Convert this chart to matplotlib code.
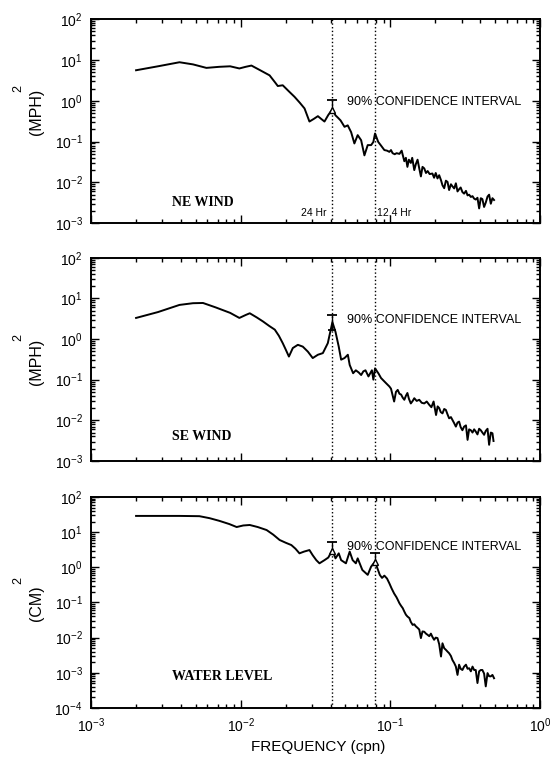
import matplotlib
matplotlib.use("Agg")
import matplotlib.pyplot as plt
from matplotlib.ticker import LogLocator, NullFormatter

# ---- datos (frecuencia en cph, espectro) ----
ne_freq = [0.002, 0.0028, 0.0039, 0.0048, 0.0059, 0.0072, 0.0085, 0.0098, 0.0108, 0.0118,
           0.0135, 0.0156, 0.0170, 0.0177, 0.0191, 0.0210, 0.0229, 0.0248, 0.0267, 0.0288,
           0.0308, 0.0328, 0.0345, 0.0363, 0.0385, 0.0410, 0.0430, 0.0448, 0.0465, 0.0494,
           0.0519, 0.0547, 0.0575, 0.0605, 0.0638, 0.0671, 0.0706, 0.0744, 0.0770, 0.0790,
           0.0830, 0.0866, 0.0912, 0.0950, 0.0985, 0.1010, 0.1035, 0.1070, 0.1100, 0.1150,
           0.1190, 0.1240, 0.1270, 0.1300, 0.1330, 0.1370, 0.1400, 0.1445, 0.1480, 0.1520,
           0.1560, 0.1600, 0.1640, 0.1685, 0.1730, 0.1775, 0.1830, 0.1910, 0.1960, 0.2010,
           0.2065, 0.2120, 0.2180, 0.2230, 0.2290, 0.2350, 0.2410, 0.2470, 0.2540, 0.2600,
           0.2670, 0.2740, 0.2810, 0.2880, 0.2950, 0.3030, 0.3110, 0.3200, 0.3280, 0.3360,
           0.3450, 0.3540, 0.3630, 0.3720, 0.3820, 0.3920, 0.4020, 0.4120, 0.4230, 0.4340,
           0.4460, 0.4570, 0.4690, 0.4810, 0.4930]
ne_power = [5.6, 7.0, 8.8, 7.8, 6.4, 6.8, 7.0, 6.2, 6.8, 7.3,
            5.6, 4.2, 2.8, 2.3, 2.4, 1.7, 1.25, 0.9, 0.65, 0.31,
            0.36, 0.42, 0.36, 0.31, 0.45, 0.62, 0.44, 0.38, 0.33, 0.23,
            0.25, 0.17, 0.090, 0.144, 0.108, 0.046, 0.082, 0.082, 0.098, 0.158,
            0.098, 0.080, 0.062, 0.060, 0.056, 0.062, 0.052, 0.049, 0.052, 0.050,
            0.060, 0.033, 0.040, 0.024, 0.036, 0.030, 0.040, 0.020, 0.028, 0.036,
            0.022, 0.014, 0.024, 0.022, 0.017, 0.019, 0.016, 0.0165, 0.013, 0.017,
            0.0125, 0.0150, 0.0113, 0.0085, 0.0072, 0.0110, 0.0103, 0.0065, 0.0090, 0.0080,
            0.0071, 0.0095, 0.0060, 0.0068, 0.0075, 0.0058, 0.0053, 0.0062, 0.0048, 0.0050,
            0.0044, 0.0046, 0.0040, 0.0038, 0.0042, 0.0023, 0.0041, 0.0039, 0.0025, 0.0032,
            0.0045, 0.0050, 0.0030, 0.0041, 0.0037]

se_freq = [0.002, 0.0028, 0.0039, 0.0048, 0.0056, 0.0068, 0.0085, 0.0098, 0.0108, 0.0115,
           0.0128, 0.0141, 0.0155, 0.0169, 0.0180, 0.0191, 0.0200, 0.0210, 0.0223, 0.0241,
           0.0260, 0.0281, 0.0303, 0.0328, 0.0354, 0.0382, 0.0410, 0.0430, 0.0452, 0.0469,
           0.0494, 0.0520, 0.0535, 0.0564, 0.0588, 0.0615, 0.0638, 0.0660, 0.0682, 0.0714,
           0.0753, 0.0770, 0.0790, 0.0835, 0.0866, 0.0900, 0.0936, 0.0985, 0.1010, 0.1060,
           0.1090, 0.1120, 0.1150, 0.1180, 0.1210, 0.1240, 0.1270, 0.1300, 0.1330, 0.1370,
           0.1410, 0.1445, 0.1500, 0.1560, 0.1620, 0.1685, 0.1750, 0.1820, 0.1880, 0.1945,
           0.2020, 0.2070, 0.2120, 0.2170, 0.2230, 0.2290, 0.2350, 0.2410, 0.2470, 0.2540,
           0.2600, 0.2670, 0.2740, 0.2810, 0.2880, 0.2950, 0.3030, 0.3110, 0.3200, 0.3280,
           0.3360, 0.3450, 0.3540, 0.3630, 0.3720, 0.3820, 0.3920, 0.4020, 0.4120, 0.4230,
           0.4340, 0.4460, 0.4570, 0.4690, 0.4810, 0.4890]
se_power = [3.3, 4.6, 6.9, 7.6, 7.7, 6.0, 4.4, 3.3, 3.9, 4.3,
            3.4, 2.7, 2.1, 1.7, 1.2, 0.79, 0.55, 0.37, 0.60, 0.72,
            0.65, 0.49, 0.34, 0.41, 0.45, 0.79, 2.6, 1.5, 0.65, 0.31,
            0.34, 0.41, 0.23, 0.144, 0.17, 0.15, 0.13, 0.16, 0.17, 0.12,
            0.17, 0.10, 0.19, 0.14, 0.11, 0.095, 0.082, 0.068, 0.060, 0.029,
            0.050, 0.056, 0.045, 0.043, 0.036, 0.032, 0.040, 0.047, 0.034, 0.026,
            0.030, 0.035, 0.030, 0.032, 0.027, 0.026, 0.029, 0.024, 0.021, 0.029,
            0.0135, 0.022, 0.020, 0.016, 0.0148, 0.019, 0.018, 0.014, 0.0112, 0.012,
            0.0102, 0.0085, 0.0070, 0.0088, 0.0093, 0.0068, 0.0057, 0.0070, 0.0075, 0.0033,
            0.0060, 0.0057, 0.0050, 0.0060, 0.0053, 0.0045, 0.0062, 0.0057, 0.0050, 0.0044,
            0.0055, 0.0062, 0.0025, 0.0050, 0.0048, 0.0031]

wl_freq = [0.002, 0.0028, 0.0039, 0.0053, 0.0062, 0.0072, 0.0084, 0.0094, 0.0104, 0.0115,
           0.0130, 0.0149, 0.0165, 0.0182, 0.0200, 0.0218, 0.0232, 0.0247, 0.0265, 0.0288,
           0.0303, 0.0320, 0.0336, 0.0363, 0.0385, 0.0410, 0.0430, 0.0452, 0.0469, 0.0505,
           0.0535, 0.0560, 0.0588, 0.0605, 0.0650, 0.0706, 0.0744, 0.0790, 0.0850, 0.0880,
           0.0912, 0.0950, 0.0985, 0.1020, 0.1060, 0.1100, 0.1120, 0.1150, 0.1180, 0.1210,
           0.1240, 0.1270, 0.1300, 0.1340, 0.1370, 0.1410, 0.1445, 0.1480, 0.1520, 0.1560,
           0.1600, 0.1640, 0.1685, 0.1730, 0.1775, 0.1820, 0.1866, 0.1910, 0.1960, 0.2010,
           0.2065, 0.2120, 0.2180, 0.2230, 0.2290, 0.2350, 0.2410, 0.2470, 0.2540, 0.2600,
           0.2670, 0.2740, 0.2810, 0.2880, 0.2950, 0.3030, 0.3110, 0.3200, 0.3280, 0.3360,
           0.3450, 0.3540, 0.3630, 0.3720, 0.3820, 0.3920, 0.4020, 0.4120, 0.4230, 0.4340,
           0.4460, 0.4570, 0.4690, 0.4810, 0.4930]
wl_power = [29, 29, 29, 28.5, 25, 21, 17, 14, 15.5, 16,
            14, 11.5, 8.5, 6.0, 5.0, 4.3, 3.4, 2.5, 2.8, 3.1,
            2.2, 1.6, 1.3, 1.6, 1.9, 3.1, 1.8, 2.5, 1.6, 1.3,
            2.8, 1.6, 1.3, 1.8, 0.84, 0.61, 1.05, 1.45, 0.61, 0.50,
            0.58, 0.48, 0.35, 0.25, 0.18, 0.14, 0.12, 0.095, 0.080, 0.069,
            0.055, 0.045, 0.040, 0.036, 0.028, 0.023, 0.024, 0.021, 0.019, 0.017,
            0.0097, 0.0150, 0.0147, 0.0130, 0.012, 0.0110, 0.013, 0.0105, 0.0087, 0.0100,
            0.0097, 0.0065, 0.0029, 0.0069, 0.0050, 0.0045, 0.0040, 0.0036, 0.0030, 0.0023,
            0.0019, 0.0015, 0.00087, 0.0017, 0.0013, 0.0012, 0.0015, 0.0017, 0.0013, 0.00135,
            0.0011, 0.0015, 0.0012, 0.0012, 0.00051, 0.0011, 0.0012, 0.0012, 0.00095, 0.00041,
            0.00098, 0.0008, 0.00079, 0.00087, 0.0007]

# lineas de marea (24 h y 12.4 h)
tide_freq = [0.041, 0.079]
tide_names = ["24 Hr", "12.4 Hr"]

# intervalos de confianza del 90%: frecuencia, extremo inferior, extremo superior
ne_ci = ([0.041], [0.58], [1.05])
se_ci = ([0.041], [1.7], [3.9])
wl_ci = ([0.041, 0.079], [2.9, 1.4], [5.4, 2.5])

panel_names = ["NE WIND", "SE WIND", "WATER LEVEL"]
unit_names = ["(MPH)", "(MPH)", "(CM)"]
y_bottoms = [1e-3, 1e-3, 1e-4]

fig = plt.figure(figsize=(5.55, 7.67), dpi=100)
plt.rcParams['font.family'] = ['Liberation Sans', 'DejaVu Sans']

rects = [[0.164, 0.709, 0.809, 0.266],
         [0.164, 0.399, 0.809, 0.265],
         [0.164, 0.077, 0.809, 0.275]]
series = [(ne_freq, ne_power, ne_ci), (se_freq, se_power, se_ci), (wl_freq, wl_power, wl_ci)]
text_y = [0.95, 3.0, 3.9]
name_y = [3.3e-3, 3.9e-3, 7.7e-4]
unit_y = [0.854, 0.528, 0.214]
sup_y = [0.885, 0.560, 0.243]

for i, (freq, power, ci) in enumerate(series):
    ax = fig.add_axes(rects[i])
    ax.set_xscale('log')
    ax.set_yscale('log')
    ax.set_xlim(1e-3, 1)
    ax.set_ylim(y_bottoms[i], 1e2)

    ax.plot(freq, power, color='black', lw=1.4)

    # lineas punteadas de las mareas
    for f in tide_freq:
        ax.axvline(f, color='black', ls=':', lw=1.0)

    # barras de confianza
    cf, lo, hi = ci
    ax.vlines(cf, lo, hi, color='black', lw=1.0)
    ax.plot(cf, hi, ls='none', marker='_', ms=7, mew=1.3, color='black')
    if i == 1:
        ax.plot(cf, lo, ls='none', marker='_', ms=6, mew=1.3, color='black')
    else:
        ax.plot(cf, lo, ls='none', marker='^', ms=5, mfc='white', mec='black', mew=1.0)

    ax.text(0.051, text_y[i], "90% CONFIDENCE INTERVAL", fontsize=9, va='center')
    ax.text(0.0035, name_y[i], panel_names[i], fontsize=10, fontweight='bold',
            family='Liberation Serif', va='center')

    if i == 0:
        ax.text(0.0375, 0.0018, tide_names[0], fontsize=7.5, ha='right', va='center')
        ax.text(0.0815, 0.0018, tide_names[1], fontsize=7.5, ha='left', va='center')

    ax.xaxis.set_major_locator(LogLocator(base=10, numticks=10))
    ax.xaxis.set_minor_locator(LogLocator(base=10, subs=range(2, 10), numticks=50))
    ax.yaxis.set_major_locator(LogLocator(base=10, numticks=10))
    ax.yaxis.set_minor_locator(LogLocator(base=10, subs=range(2, 10), numticks=50))
    ax.yaxis.set_minor_formatter(NullFormatter())
    ax.xaxis.set_minor_formatter(NullFormatter())
    ax.tick_params(which='both', direction='in', top=True, right=True, width=1.0)
    ax.tick_params(which='major', length=6, labelsize=10, pad=6)
    ax.tick_params(which='minor', length=3)
    if i < 2:
        ax.tick_params(axis='x', which='both', labelbottom=False)
    for s in ax.spines.values():
        s.set_linewidth(1.4)

    fig.text(0.065, unit_y[i], unit_names[i], rotation=90, fontsize=11.5,
             ha='center', va='center')
    fig.text(0.033, sup_y[i], "2", rotation=90, fontsize=9, ha='center', va='center')

fig.text(0.573, 0.026, "FREQUENCY (cpn)", fontsize=11, ha='center', va='center')

fig.savefig("out.png", dpi=100)
